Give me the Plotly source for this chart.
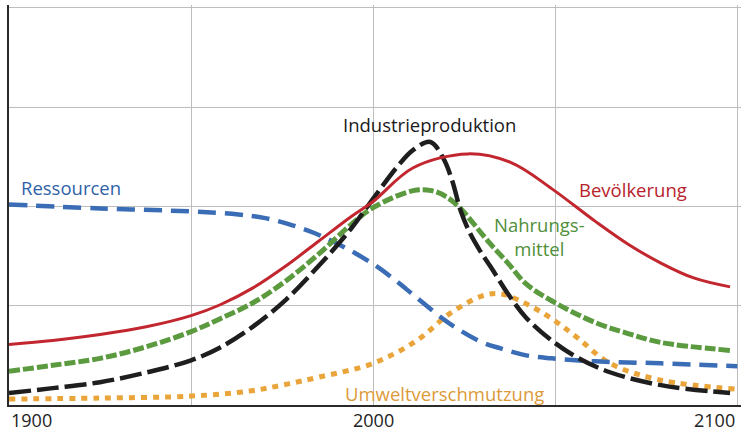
import plotly.graph_objects as go

# ---- data ----
years_pop = [1900, 1912, 1925, 1938, 1950, 1958, 1967, 1976, 1985, 1994, 2000, 2011, 2026, 2038, 2049, 2061, 2070, 2079, 2088, 2098]
bevoelkerung = [0.61, 0.65, 0.71, 0.79, 0.90, 1.01, 1.18, 1.40, 1.65, 1.90, 2.05, 2.39, 2.53, 2.44, 2.18, 1.85, 1.62, 1.43, 1.28, 1.19]

years_ind = [1900, 1912, 1925, 1938, 1950, 1958, 1967, 1976, 1985, 1994, 2000, 2006.6, 2011, 2015.7, 2019.2, 2021.7, 2024, 2026.6,
             2029.4, 2033, 2037, 2042, 2049, 2056, 2065, 2079, 2098]
industrie = [0.12, 0.17, 0.23, 0.33, 0.45, 0.58, 0.79, 1.06, 1.40, 1.78, 2.08, 2.40, 2.57, 2.65, 2.49, 2.26, 1.96, 1.73,
             1.55, 1.35, 1.12, 0.88, 0.65, 0.48, 0.33, 0.20, 0.12]

years_food = [1900, 1912, 1925, 1938, 1950, 1958, 1967, 1976, 1985, 1994, 2000, 2011, 2016, 2020, 2024, 2027.5, 2032, 2037,
              2042, 2049, 2061, 2070, 2079, 2098]
nahrung = [0.34, 0.40, 0.47, 0.59, 0.74, 0.87, 1.03, 1.25, 1.52, 1.82, 1.99, 2.16, 2.16, 2.10, 1.98, 1.83, 1.63, 1.43,
           1.22, 1.05, 0.83, 0.72, 0.63, 0.55]

years_res = [1900, 1925, 1950, 1963, 1970, 1977, 1984, 1991, 2000, 2006, 2012, 2021, 2030, 2035, 2042, 2049, 2061, 2079, 2100]
ressourcen = [2.02, 1.98, 1.95, 1.92, 1.885, 1.82, 1.73, 1.61, 1.42, 1.26, 1.08, 0.82, 0.63, 0.57, 0.50, 0.47, 0.44, 0.42, 0.39]

years_pol = [1900, 1925, 1950, 1966, 1975, 1985, 2000, 2012, 2021, 2030, 2035, 2042, 2049, 2056, 2065, 2079, 2100]
umwelt = [0.06, 0.07, 0.09, 0.14, 0.20, 0.28, 0.42, 0.65, 0.92, 1.10, 1.12, 1.02, 0.87, 0.68, 0.42, 0.25, 0.16]

tick_years = [1900, 2000, 2100]
tick_labels = ["1900", "2000", "2100"]

# ---- styles ----
RED = "#c2262e"
GREEN = "#5b9a3e"
BLACK = "#1e1e1e"
BLUE = "#3a6db5"
ORANGE = "#e9a53a"
FONT = "Open Sans"

fig = go.Figure()

fig.add_trace(go.Scatter(x=years_pol, y=umwelt, mode="lines",
                         line=dict(color=ORANGE, width=5, dash="6px,6px", shape="spline", smoothing=1.0)))
fig.add_trace(go.Scatter(x=years_res, y=ressourcen, mode="lines",
                         line=dict(color=BLUE, width=4.5, dash="18px,9px", shape="spline", smoothing=1.0)))
fig.add_trace(go.Scatter(x=years_food, y=nahrung, mode="lines",
                         line=dict(color=GREEN, width=5, dash="11px,3px", shape="spline", smoothing=1.0)))
fig.add_trace(go.Scatter(x=years_ind, y=industrie, mode="lines",
                         line=dict(color=BLACK, width=4.5, dash="22px,6px", shape="spline", smoothing=1.0)))
fig.add_trace(go.Scatter(x=years_pop, y=bevoelkerung, mode="lines",
                         line=dict(color=RED, width=3, shape="spline", smoothing=1.0)))

labels = [
    dict(text="Ressourcen", x=1902.8, y=2.19, xanchor="left", color="#2f62a8"),
    dict(text="Industrieproduktion", x=2015.4, y=2.83, xanchor="center", color="#1a1a1a"),
    dict(text="Bevölkerung", x=2071.4, y=2.17, xanchor="center", color="#b8232b"),
    dict(text="Nahrungs-<br>mittel", x=2045.8, y=1.695, xanchor="center", color="#4f8f3a"),
    dict(text="Umweltverschmutzung", x=2019.5, y=0.12, xanchor="center", color="#dc9a3a"),
]
annotations = []
for lb in labels:
    annotations.append(dict(text=lb["text"], x=lb["x"], y=lb["y"], xref="x", yref="y",
                            xanchor=lb["xanchor"], yanchor="middle", showarrow=False, align="center",
                            font=dict(family=FONT, size=18.5, color=lb["color"])))
for yr, tl, anc in zip(tick_years, tick_labels, ["left", "center", "right"]):
    annotations.append(dict(text=tl, x=yr, y=-0.038, xref="x", yref="paper",
                            xanchor=anc, yanchor="middle", showarrow=False,
                            font=dict(family=FONT, size=18, color="#222222")))

fig.update_layout(
    width=744, height=434,
    margin=dict(l=9, r=3, t=5, b=29),
    paper_bgcolor="white", plot_bgcolor="white",
    showlegend=False,
    annotations=annotations,
    xaxis=dict(range=[1900, 2101], tickvals=[1950, 2000, 2050, 2100], showticklabels=False,
               ticks="", showgrid=True, gridcolor="#bdbdbd", gridwidth=1, zeroline=False,
               showline=True, linecolor="#2a2a2a", linewidth=2),
    yaxis=dict(range=[0, 4.03], tickvals=[1, 2, 3, 4], showticklabels=False,
               ticks="", showgrid=True, gridcolor="#bdbdbd", gridwidth=1, zeroline=False,
               showline=True, linecolor="#2a2a2a", linewidth=2),
)

fig.write_html("out.html", config={"displayModeBar": False},
               post_script="document.body.style.margin='0';document.body.style.overflow='hidden';")
